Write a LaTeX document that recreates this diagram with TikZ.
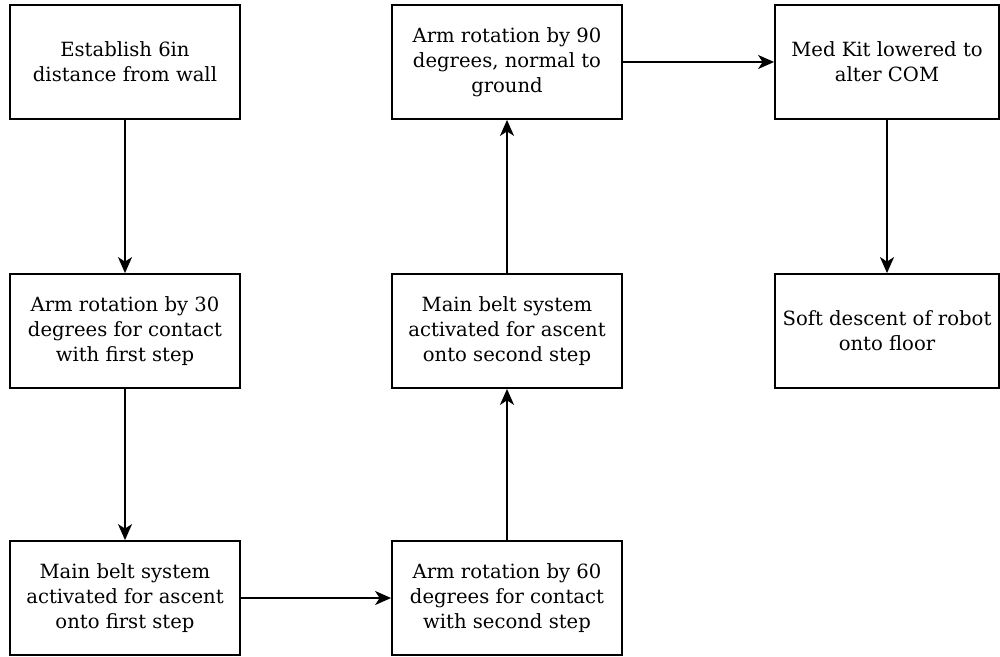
\documentclass[tikz,border=0pt]{standalone}
\usepackage{fontspec}
\setmainfont{DejaVu Serif}
\usetikzlibrary{arrows.meta}
\begin{document}
\begin{tikzpicture}[x=1pt,y=-1pt,
  box/.style={draw=black, line width=1.8pt, fill=white, minimum width=230pt, minimum height=114pt, inner sep=0pt, align=center, font=\fontsize{19.6}{25}\selectfont},
  arr/.style={line width=1.8pt, -{Stealth[length=16pt,width=14pt,inset=4.5pt]}}]
\useasboundingbox (0,0) rectangle (1000,656);
\node[box] (b1) at (125,62) {Establish 6in\\distance from wall};
\node[box] (b2) at (125,331) {Arm rotation by 30\\degrees for contact\\with first step};
\node[box] (b3) at (125,598) {Main belt system\\activated for ascent\\onto first step};
\node[box] (b4) at (507,598) {Arm rotation by 60\\degrees for contact\\with second step};
\node[box] (b5) at (507,331) {Main belt system\\activated for ascent\\onto second step};
\node[box] (b6) at (507,62) {Arm rotation by 90\\degrees, normal to\\ground};
\node[box, minimum width=224pt] (b7) at (887,62) {Med Kit lowered to\\alter COM};
\node[box, minimum width=224pt] (b8) at (887,331) {Soft descent of robot\\onto floor};
\draw[arr] (b1) -- (b2);
\draw[arr] (b2) -- (b3);
\draw[arr] (b3) -- (b4);
\draw[arr] (b4) -- (b5);
\draw[arr] (b5) -- (b6);
\draw[arr] (b6) -- (b7);
\draw[arr] (b7) -- (b8);
\end{tikzpicture}
\end{document}
